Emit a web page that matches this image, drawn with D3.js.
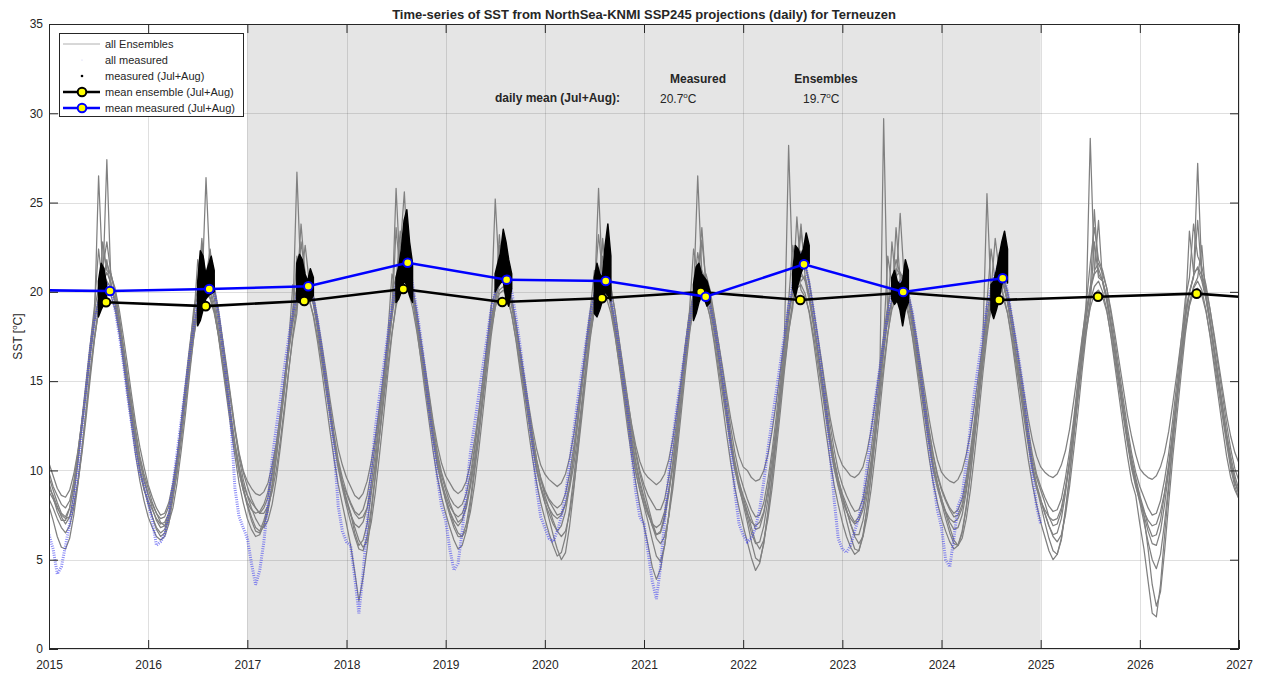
<!DOCTYPE html>
<html>
<head>
<meta charset="utf-8">
<script src="https://cdn.jsdelivr.net/npm/d3@7"></script>
<style>
  body { margin: 0; background: #fff; }
  svg text { font-family: "Liberation Sans", Arial, Helvetica, sans-serif; fill: #262626; }
</style>
</head>
<body>
<svg id="chart" width="1270" height="673"></svg>
<script>
// ---- data ----
const xTicks = [2015, 2016, 2017, 2018, 2019, 2020, 2021, 2022, 2023, 2024, 2025, 2026, 2027];
const yTicks = [0, 5, 10, 15, 20, 25, 30, 35];
const shadeRange = [2017, 2025];

// ensemble members, half-monthly samples from 1 Jan 2015 to 1 Jan 2027 (one row per year)
const ensA = [
  9.6, 8.9, 8.2, 7.6, 7.4, 7.9, 9.0, 10.6, 12.4, 14.3, 16.4, 18.2, 19.6, 21.3, 22.8, 21.0, 19.9, 18.5, 16.8, 15.1, 13.5, 11.9, 10.6, 9.6,
  8.7, 7.9, 7.2, 6.8, 6.9, 7.6, 8.9, 10.4, 12.2, 14.1, 16.3, 18.0, 19.4, 20.6, 21.2, 20.7, 19.6, 18.3, 16.7, 15.0, 13.2, 11.5, 10.2, 9.1,
  8.1, 7.4, 6.8, 6.6, 7.2, 8.0, 9.2, 10.8, 12.6, 14.5, 16.8, 18.5, 19.8, 21.0, 20.4, 20.0, 19.3, 18.0, 16.5, 14.9, 13.4, 11.8, 10.3, 9.2,
  8.4, 7.6, 6.5, 5.8, 6.1, 7.0, 8.7, 10.5, 12.8, 14.9, 17.0, 18.9, 20.3, 21.6, 22.0, 21.2, 20.1, 18.6, 17.0, 15.4, 13.8, 12.1, 10.8, 9.7,
  8.9, 8.2, 7.6, 7.1, 7.3, 7.9, 9.1, 10.6, 12.3, 14.2, 16.2, 18.0, 19.5, 20.4, 20.9, 20.3, 19.4, 18.0, 16.6, 15.0, 13.3, 11.8, 10.5, 9.5,
  8.8, 8.3, 7.9, 7.5, 7.6, 8.1, 9.3, 10.9, 12.7, 14.6, 16.5, 18.1, 19.2, 20.1, 20.8, 21.3, 20.2, 18.9, 17.2, 15.6, 13.9, 12.2, 10.9, 9.8,
  8.9, 8.0, 7.1, 6.4, 6.6, 7.5, 8.8, 10.2, 12.1, 14.0, 16.2, 18.2, 19.6, 20.3, 20.0, 19.8, 19.0, 17.7, 16.2, 14.8, 13.1, 11.6, 10.3, 9.3,
  8.6, 8.0, 7.3, 6.7, 6.8, 7.6, 9.0, 10.7, 12.5, 14.6, 16.9, 18.8, 20.0, 21.1, 20.6, 20.9, 19.8, 18.4, 16.9, 15.3, 13.7, 12.0, 10.6, 9.5,
  8.7, 8.1, 7.5, 7.1, 7.4, 8.0, 9.2, 10.6, 12.4, 14.5, 16.7, 18.6, 19.5, 20.0, 20.7, 20.4, 19.7, 18.4, 16.9, 15.4, 13.8, 12.2, 10.8, 9.7,
  8.9, 8.3, 7.8, 7.4, 7.5, 8.1, 9.3, 10.8, 12.6, 14.6, 16.6, 18.3, 19.4, 20.2, 20.8, 20.5, 19.5, 18.1, 16.6, 15.1, 13.5, 11.9, 10.6, 9.6,
  8.9, 8.2, 7.4, 6.9, 7.0, 7.7, 9.0, 10.6, 12.5, 14.6, 16.8, 18.7, 20.1, 21.0, 21.3, 20.6, 19.7, 18.3, 16.8, 15.2, 13.6, 12.0, 10.7, 9.6,
  8.6, 7.8, 6.9, 6.3, 6.4, 7.2, 8.7, 10.4, 12.3, 14.4, 16.6, 18.5, 19.9, 20.9, 21.4, 20.9, 19.9, 18.5, 16.9, 15.3, 13.7, 12.1, 10.8, 9.7,
  8.9
];
const ensB = [
  10.4, 9.7, 9.0, 8.6, 8.5, 8.9, 9.8, 11.1, 12.8, 14.6, 16.6, 18.4, 26.5, 21.0, 21.6, 20.9, 20.2, 19.0, 17.5, 15.9, 14.2, 12.6, 11.3, 10.2,
  9.2, 8.5, 7.9, 7.5, 7.6, 8.2, 9.3, 10.8, 12.5, 14.4, 16.2, 17.9, 19.1, 20.0, 26.4, 21.1, 20.3, 19.0, 17.4, 15.8, 14.1, 12.4, 11.0, 10.0,
  9.4, 9.0, 8.7, 8.6, 8.8, 9.3, 10.3, 11.5, 13.1, 14.8, 16.6, 18.2, 19.4, 20.2, 20.9, 20.4, 19.7, 18.5, 17.1, 15.6, 14.0, 12.5, 11.2, 10.3,
  9.6, 9.1, 8.6, 8.4, 8.7, 9.4, 10.5, 11.9, 13.6, 15.4, 17.3, 19.0, 25.8, 21.0, 21.4, 20.8, 19.9, 18.7, 17.3, 15.8, 14.3, 12.7, 11.4, 10.4,
  9.7, 9.3, 8.9, 8.7, 8.9, 9.4, 10.4, 11.7, 13.3, 15.0, 16.8, 18.4, 19.7, 20.5, 20.6, 20.0, 19.2, 18.0, 16.7, 15.3, 13.8, 12.4, 11.2, 10.3,
  9.8, 9.5, 9.3, 9.1, 9.3, 9.8, 10.7, 12.0, 13.6, 15.2, 16.9, 18.4, 19.6, 25.8, 20.4, 20.1, 19.3, 18.1, 16.8, 15.4, 14.0, 12.6, 11.4, 10.5,
  9.9, 9.6, 9.4, 9.2, 9.4, 9.8, 10.6, 11.8, 13.4, 15.1, 16.9, 18.5, 19.8, 26.5, 21.0, 20.6, 19.8, 18.6, 17.2, 15.8, 14.3, 12.9, 11.7, 10.8,
  10.2, 10.0, 9.6, 9.4, 9.5, 10.0, 10.9, 12.2, 13.8, 15.6, 17.5, 28.2, 20.6, 21.6, 22.3, 21.5, 20.4, 19.0, 17.6, 16.1, 14.5, 13.0, 11.8, 10.9,
  10.3, 10.0, 9.7, 9.6, 9.8, 10.2, 11.1, 12.3, 13.9, 15.7, 17.6, 19.2, 20.2, 20.9, 21.1, 20.6, 19.9, 18.8, 17.4, 15.9, 14.4, 12.9, 11.6, 10.6,
  9.9, 9.6, 9.4, 9.3, 9.5, 10.0, 10.9, 12.1, 13.7, 15.4, 17.2, 25.5, 19.8, 20.6, 21.0, 20.7, 19.9, 18.7, 17.3, 15.8, 14.3, 12.9, 11.7, 10.8,
  10.2, 9.9, 9.7, 9.6, 9.8, 10.3, 11.1, 12.3, 13.9, 15.6, 17.4, 19.0, 28.6, 21.2, 21.6, 21.0, 20.2, 19.0, 17.6, 16.1, 14.6, 13.1, 11.9, 10.9,
  10.1, 9.8, 9.6, 9.5, 9.7, 10.2, 11.0, 12.2, 13.8, 15.5, 17.3, 18.9, 20.0, 20.8, 27.2, 21.0, 20.2, 19.0, 17.6, 16.1, 14.6, 13.1, 11.9, 11.0,
  10.4
];
const ensC = [
  8.0, 7.2, 6.3, 5.7, 5.6, 6.2, 7.5, 9.2, 11.2, 13.4, 15.6, 17.5, 19.1, 20.4, 21.1, 20.5, 19.3, 17.8, 16.0, 14.2, 12.5, 10.8, 9.4, 8.3,
  7.4, 6.8, 6.3, 6.1, 6.3, 7.0, 8.4, 10.1, 12.0, 14.0, 16.0, 17.8, 19.2, 20.0, 20.5, 20.0, 19.0, 17.5, 15.8, 14.1, 12.4, 10.8, 9.3, 8.2,
  7.3, 6.7, 6.3, 6.4, 7.0, 7.8, 9.0, 10.7, 12.6, 14.6, 16.7, 18.6, 26.7, 20.5, 20.1, 19.6, 18.6, 17.2, 15.6, 13.9, 12.2, 10.6, 9.2, 8.1,
  7.0, 5.8, 4.3, 2.7, 4.0, 5.6, 7.6, 9.7, 12.0, 14.3, 16.6, 18.6, 20.1, 21.2, 21.5, 20.8, 19.6, 18.0, 16.2, 14.4, 12.7, 11.0, 9.6, 8.5,
  7.6, 6.8, 6.1, 5.6, 5.8, 6.6, 8.1, 9.9, 11.8, 13.9, 16.0, 17.9, 19.3, 20.1, 20.3, 19.7, 18.7, 17.3, 15.6, 14.0, 12.3, 10.7, 9.3, 8.2,
  7.3, 6.5, 5.8, 5.2, 5.4, 6.3, 7.8, 9.6, 11.6, 13.7, 15.8, 17.6, 19.0, 20.0, 20.5, 20.2, 19.1, 17.6, 15.9, 14.2, 12.4, 10.8, 9.3, 8.0,
  6.9, 5.8, 4.6, 3.9, 4.5, 5.8, 7.5, 9.4, 11.5, 13.7, 15.9, 17.8, 19.1, 19.9, 20.1, 19.6, 18.6, 17.1, 15.4, 13.7, 12.0, 10.4, 9.0, 7.9,
  6.9, 6.0, 5.1, 4.4, 4.8, 6.0, 7.7, 9.6, 11.7, 13.9, 16.1, 18.0, 19.4, 20.2, 20.4, 19.9, 18.8, 17.3, 15.6, 13.9, 12.2, 10.6, 9.2, 8.1,
  7.1, 6.3, 5.7, 5.3, 5.5, 6.4, 7.9, 9.8, 11.9, 14.1, 29.7, 18.2, 19.6, 20.3, 20.5, 19.9, 18.9, 17.4, 15.7, 14.0, 12.3, 10.7, 9.3, 8.2,
  7.3, 6.6, 6.0, 5.6, 5.8, 6.6, 8.0, 9.8, 11.8, 13.9, 16.0, 17.9, 19.2, 20.0, 20.3, 19.8, 18.8, 17.3, 15.6, 13.9, 12.2, 10.6, 9.2, 8.1,
  7.1, 6.3, 5.5, 5.0, 5.3, 6.2, 7.8, 9.7, 11.8, 14.0, 16.2, 18.1, 19.5, 20.3, 20.6, 20.0, 19.0, 17.5, 15.8, 14.1, 12.4, 10.8, 9.4, 8.6,
  7.0, 5.6, 3.8, 2.0, 1.8, 3.6, 6.4, 9.0, 11.5, 13.8, 16.1, 18.0, 19.4, 20.2, 20.6, 20.1, 19.0, 17.5, 15.8, 14.1, 12.4, 10.8, 9.6, 8.9,
  8.4
];
const ensD = [
  9.0, 8.6, 8.0, 7.4, 7.0, 7.4, 8.6, 10.4, 12.6, 14.8, 17.0, 18.9, 20.3, 21.0, 20.6, 20.2, 19.5, 18.2, 16.6, 14.9, 13.2, 11.5, 10.1, 9.0,
  8.1, 7.4, 6.8, 6.5, 6.7, 7.4, 8.8, 10.6, 12.7, 14.8, 16.9, 18.7, 19.9, 23.0, 20.2, 19.7, 18.9, 17.6, 16.0, 14.4, 12.8, 11.2, 9.9, 8.9,
  8.2, 7.8, 7.6, 7.7, 8.1, 8.8, 9.9, 11.4, 13.2, 15.1, 17.0, 18.6, 22.0, 20.6, 22.6, 20.5, 19.5, 18.1, 16.5, 14.9, 13.3, 11.7, 10.3, 9.2,
  8.2, 7.5, 7.0, 6.8, 7.1, 7.9, 9.3, 11.0, 13.0, 15.1, 17.3, 19.2, 20.6, 23.4, 21.6, 20.7, 19.6, 18.2, 16.6, 15.0, 13.4, 11.8, 10.4, 9.3,
  8.4, 7.7, 7.2, 6.9, 7.2, 8.0, 9.4, 11.1, 13.0, 15.1, 17.1, 18.9, 25.2, 20.8, 21.1, 20.4, 19.4, 18.0, 16.4, 14.8, 13.2, 11.6, 10.2, 9.1,
  8.2, 7.6, 7.0, 6.6, 6.9, 7.7, 9.1, 10.8, 12.8, 14.9, 17.0, 18.8, 20.0, 23.2, 21.0, 20.5, 19.5, 18.1, 16.5, 14.9, 13.3, 11.7, 10.3, 9.2,
  8.3, 7.6, 6.9, 6.4, 6.5, 7.3, 8.7, 10.5, 12.6, 14.8, 17.0, 18.9, 22.4, 21.0, 21.2, 20.6, 19.5, 18.1, 16.5, 14.9, 13.3, 11.7, 10.3, 9.2,
  8.3, 7.4, 6.5, 5.9, 6.0, 6.9, 8.4, 10.2, 12.3, 14.5, 16.8, 18.9, 20.4, 21.4, 23.8, 20.8, 19.7, 18.3, 16.7, 15.1, 13.5, 11.9, 10.5, 9.4,
  8.5, 7.8, 7.0, 6.4, 6.4, 7.2, 8.6, 10.4, 12.5, 14.7, 17.0, 19.1, 20.5, 21.3, 21.0, 20.3, 19.3, 17.9, 16.3, 14.8, 13.2, 11.7, 10.3, 9.3,
  8.4, 7.7, 7.1, 6.7, 6.8, 7.5, 8.8, 10.6, 12.6, 14.7, 16.9, 18.8, 20.1, 23.0, 21.1, 20.4, 19.4, 18.0, 16.4, 14.8, 13.2, 11.6, 10.2, 9.2,
  8.3, 7.6, 6.9, 6.4, 6.5, 7.3, 8.7, 10.5, 12.6, 14.8, 17.0, 18.9, 20.3, 21.1, 24.0, 20.5, 19.5, 18.1, 16.5, 14.9, 13.3, 11.7, 10.3, 9.3,
  8.4, 7.5, 6.6, 5.9, 5.8, 6.6, 8.1, 10.0, 12.1, 14.3, 16.6, 18.7, 23.4, 21.1, 21.3, 20.6, 19.6, 18.2, 16.6, 15.0, 13.4, 11.8, 10.4, 9.4,
  8.7
];
const ensE = [
  8.4, 7.9, 7.3, 6.8, 6.5, 6.9, 7.9, 9.4, 11.3, 13.4, 15.5, 17.4, 18.9, 19.8, 20.2, 19.8, 19.0, 17.7, 16.2, 14.6, 12.9, 11.3, 9.9, 8.9,
  8.3, 7.8, 7.3, 7.0, 7.1, 7.6, 8.5, 9.8, 11.6, 13.6, 15.6, 17.4, 18.8, 19.6, 20.0, 19.6, 18.8, 17.6, 16.1, 14.6, 13.0, 11.5, 10.2, 9.2,
  8.6, 8.2, 7.9, 7.6, 7.6, 8.0, 8.8, 10.0, 11.7, 13.6, 15.6, 17.4, 18.8, 21.8, 19.9, 19.5, 18.7, 17.5, 16.1, 14.6, 13.1, 11.6, 10.3, 9.3,
  8.7, 8.1, 7.6, 7.3, 7.4, 7.9, 8.9, 10.2, 11.9, 13.9, 15.9, 17.7, 19.2, 20.1, 20.4, 20.0, 19.1, 17.8, 16.3, 14.8, 13.2, 11.7, 10.3, 9.3,
  8.6, 8.0, 7.6, 7.4, 7.6, 8.2, 9.2, 10.5, 12.2, 14.1, 16.1, 17.8, 19.1, 19.9, 20.1, 19.6, 18.7, 17.4, 15.9, 14.4, 12.9, 11.4, 10.1, 9.1,
  8.4, 7.9, 7.5, 7.3, 7.5, 8.1, 9.0, 10.3, 12.0, 13.9, 15.9, 17.7, 19.0, 19.8, 22.0, 19.6, 18.8, 17.5, 16.0, 14.5, 12.9, 11.3, 9.9, 8.9,
  8.1, 7.5, 7.0, 6.8, 7.0, 7.7, 8.9, 10.4, 12.2, 14.2, 16.2, 18.0, 19.2, 19.9, 20.0, 19.5, 18.6, 17.3, 15.8, 14.3, 12.8, 11.3, 10.0, 9.0,
  8.2, 7.6, 7.1, 6.9, 7.1, 7.7, 8.8, 10.2, 11.9, 13.9, 15.9, 17.8, 19.1, 21.9, 20.1, 19.7, 18.9, 17.6, 16.1, 14.6, 13.0, 11.5, 10.1, 9.1,
  8.3, 7.7, 7.3, 7.0, 7.2, 7.8, 8.9, 10.3, 12.0, 13.9, 15.9, 17.7, 19.0, 19.7, 19.9, 19.5, 18.7, 17.5, 16.0, 14.5, 12.9, 11.4, 10.0, 9.0,
  8.2, 7.7, 7.3, 7.1, 7.3, 7.9, 9.0, 10.4, 12.1, 14.0, 16.0, 17.8, 19.0, 19.8, 21.8, 19.6, 18.8, 17.5, 16.0, 14.5, 12.9, 11.4, 10.0, 9.0,
  8.3, 7.8, 7.4, 7.2, 7.3, 7.9, 9.0, 10.4, 12.1, 14.0, 16.0, 17.8, 19.1, 19.9, 20.1, 19.7, 18.9, 17.6, 16.1, 14.6, 13.0, 11.5, 10.1, 9.1,
  8.3, 7.7, 7.2, 6.9, 7.0, 7.7, 8.8, 10.2, 12.0, 14.0, 16.0, 17.9, 19.2, 20.0, 20.2, 19.8, 18.9, 17.6, 16.1, 14.6, 13.0, 11.5, 10.1, 9.1,
  8.4
];
const ensF = [
  9.9, 9.1, 8.6, 8.1, 7.9, 8.3, 9.4, 11.0, 12.9, 15.0, 17.1, 19.2, 22.4, 20.3, 21.8, 20.1, 19.5, 18.3, 16.9, 15.3, 13.8, 12.2, 10.8, 9.8,
  9.0, 8.2, 7.6, 7.3, 7.4, 8.0, 9.1, 10.7, 12.6, 14.6, 16.6, 19.0, 20.2, 22.6, 20.6, 21.4, 20.0, 18.7, 17.1, 15.5, 13.9, 12.3, 10.9, 9.9,
  9.1, 8.4, 7.9, 7.6, 7.9, 8.5, 9.7, 11.2, 13.0, 15.0, 17.1, 20.4, 19.6, 22.8, 21.0, 20.2, 19.8, 18.4, 16.8, 15.2, 13.6, 12.0, 10.6, 9.6,
  8.8, 8.2, 7.7, 7.5, 7.8, 8.6, 9.9, 11.5, 13.4, 15.4, 17.6, 21.0, 20.2, 22.4, 25.6, 21.1, 20.3, 18.9, 17.3, 15.7, 14.1, 12.5, 11.0, 9.9,
  9.1, 8.5, 8.1, 7.9, 8.1, 8.7, 9.8, 11.3, 13.1, 15.0, 17.0, 19.2, 20.0, 22.0, 21.2, 20.5, 19.6, 18.2, 16.7, 15.1, 13.5, 12.0, 10.6, 9.6,
  8.9, 8.4, 8.1, 7.9, 8.1, 8.7, 9.8, 11.3, 13.1, 15.1, 17.2, 19.0, 21.2, 20.4, 22.6, 21.8, 20.3, 18.9, 17.3, 15.7, 14.1, 12.5, 11.1, 10.0,
  9.2, 8.6, 8.2, 7.8, 7.8, 8.4, 9.6, 11.1, 12.9, 14.9, 17.0, 18.8, 20.0, 22.2, 20.8, 21.0, 20.1, 18.7, 17.2, 15.6, 14.0, 12.4, 11.0, 9.9,
  9.1, 8.4, 7.8, 7.4, 7.5, 8.2, 9.5, 11.1, 13.0, 15.1, 17.3, 19.5, 22.6, 21.0, 23.4, 21.6, 20.6, 19.1, 17.5, 15.9, 14.2, 12.6, 11.2, 10.0,
  9.2, 8.6, 8.1, 7.7, 7.8, 8.4, 9.7, 11.2, 13.1, 15.2, 17.4, 22.0, 20.4, 21.8, 21.0, 20.8, 20.0, 18.6, 17.1, 15.5, 13.9, 12.3, 10.9, 9.8,
  9.0, 8.4, 7.9, 7.6, 7.8, 8.4, 9.6, 11.1, 12.9, 14.9, 17.0, 19.4, 22.4, 20.6, 21.6, 20.9, 20.0, 18.6, 17.1, 15.5, 13.9, 12.3, 10.9, 9.8,
  9.1, 8.5, 8.0, 7.7, 7.8, 8.4, 9.6, 11.1, 12.9, 15.0, 17.2, 19.3, 21.6, 23.6, 21.8, 21.2, 20.2, 18.8, 17.2, 15.6, 14.0, 12.4, 11.0, 9.9,
  9.1, 8.5, 7.9, 7.5, 7.6, 8.3, 9.5, 11.0, 12.9, 15.0, 17.2, 19.6, 20.8, 23.8, 22.0, 21.4, 20.4, 19.0, 17.4, 15.8, 14.2, 12.6, 11.2, 10.1,
  9.4
];
const ensG = [
  8.8, 8.4, 7.9, 7.5, 7.3, 7.4, 8.1, 9.3, 11.0, 13.0, 15.2, 17.3, 19.0, 22.8, 21.2, 21.0, 20.0, 18.6, 17.0, 15.3, 13.6, 12.0, 10.5, 9.4,
  8.6, 8.1, 7.6, 7.1, 6.9, 7.1, 7.9, 9.3, 11.1, 13.1, 15.3, 17.4, 19.1, 20.2, 20.8, 22.4, 20.2, 18.9, 17.3, 15.6, 13.9, 12.2, 10.7, 9.5,
  8.6, 7.9, 7.3, 6.9, 6.8, 7.2, 8.1, 9.5, 11.3, 13.3, 15.5, 17.6, 19.2, 20.2, 20.6, 20.4, 19.6, 18.3, 16.7, 15.1, 13.4, 11.8, 10.4, 9.3,
  8.3, 7.6, 6.8, 6.1, 5.7, 6.0, 7.1, 8.8, 10.9, 13.1, 15.4, 17.6, 19.4, 20.6, 23.0, 21.1, 20.2, 18.8, 17.2, 15.5, 13.8, 12.1, 10.6, 9.4,
  8.4, 7.7, 7.0, 6.5, 6.3, 6.7, 7.7, 9.2, 11.1, 13.2, 15.4, 17.5, 19.2, 22.6, 20.6, 20.4, 19.6, 18.3, 16.8, 15.2, 13.6, 12.0, 10.6, 9.5,
  8.6, 7.9, 7.2, 6.6, 6.3, 6.6, 7.6, 9.1, 11.0, 13.1, 15.3, 17.4, 19.0, 20.0, 20.5, 20.4, 19.6, 18.3, 16.7, 15.1, 13.5, 11.9, 10.5, 9.4,
  8.5, 7.7, 6.9, 6.2, 5.9, 6.3, 7.4, 9.0, 11.0, 13.2, 15.5, 17.6, 19.3, 20.3, 22.9, 20.6, 19.7, 18.3, 16.7, 15.1, 13.5, 11.9, 10.5, 9.4,
  8.5, 7.7, 6.8, 6.0, 5.6, 6.1, 7.3, 9.0, 11.1, 13.3, 15.6, 17.7, 19.4, 20.4, 20.9, 20.7, 19.8, 18.4, 16.8, 15.2, 13.6, 12.0, 10.6, 9.5,
  8.6, 7.8, 7.0, 6.3, 5.9, 6.3, 7.4, 9.0, 11.0, 13.2, 15.5, 17.6, 19.3, 23.6, 20.7, 20.5, 19.6, 18.2, 16.6, 15.0, 13.4, 11.8, 10.4, 9.3,
  8.4, 7.6, 6.8, 6.1, 5.8, 6.2, 7.3, 8.9, 10.9, 13.1, 15.4, 17.5, 19.2, 20.2, 20.6, 20.4, 19.5, 18.1, 16.5, 14.9, 13.3, 11.7, 10.3, 9.2,
  8.4, 7.6, 6.9, 6.3, 6.0, 6.4, 7.5, 9.1, 11.1, 13.2, 15.5, 17.6, 19.3, 22.8, 20.8, 20.6, 19.7, 18.3, 16.7, 15.1, 13.5, 11.9, 10.5, 9.4,
  8.5, 7.4, 5.6, 3.6, 2.4, 3.2, 5.5, 8.2, 10.8, 13.1, 15.4, 17.6, 19.3, 20.3, 20.8, 22.6, 19.7, 18.3, 16.7, 15.1, 13.5, 11.9, 10.5, 9.4,
  8.6
];
const ensH = [
  9.3, 8.5, 7.7, 7.2, 7.2, 7.9, 9.2, 10.9, 12.8, 14.8, 16.8, 18.5, 19.6, 20.3, 27.4, 20.4, 19.6, 18.2, 16.5, 14.8, 13.1, 11.5, 10.1, 9.0,
  8.2, 7.4, 6.7, 6.3, 6.5, 7.3, 8.7, 10.5, 12.5, 14.6, 16.6, 18.3, 21.8, 20.1, 20.6, 20.2, 19.3, 17.9, 16.2, 14.6, 12.9, 11.3, 9.9, 8.9,
  8.0, 7.2, 6.6, 6.5, 6.9, 7.7, 9.1, 10.9, 12.9, 15.0, 17.1, 18.9, 20.1, 23.8, 20.9, 20.3, 19.3, 17.9, 16.3, 14.7, 13.1, 11.5, 10.1, 9.0,
  8.0, 7.1, 6.3, 5.6, 5.5, 6.3, 7.9, 9.8, 12.0, 14.3, 16.6, 18.6, 23.6, 20.9, 21.6, 21.0, 19.8, 18.4, 16.7, 15.0, 13.3, 11.7, 10.3, 9.2,
  8.3, 7.5, 6.8, 6.3, 6.3, 7.0, 8.4, 10.2, 12.2, 14.4, 16.5, 18.4, 19.6, 23.2, 20.6, 20.2, 19.2, 17.8, 16.2, 14.6, 13.0, 11.4, 10.0, 9.0,
  8.2, 7.3, 6.4, 5.6, 5.0, 5.4, 6.9, 8.9, 11.2, 13.6, 15.9, 17.9, 19.4, 20.2, 23.0, 20.4, 19.3, 17.8, 16.1, 14.5, 12.9, 11.3, 9.9, 8.9,
  8.0, 7.1, 6.1, 5.2, 4.9, 5.8, 7.5, 9.6, 11.8, 14.1, 16.4, 18.4, 19.8, 20.7, 23.6, 20.3, 19.3, 17.9, 16.3, 14.7, 13.1, 11.5, 10.1, 9.1,
  8.1, 7.1, 6.0, 5.1, 4.9, 5.9, 7.6, 9.6, 11.8, 14.1, 16.4, 18.5, 20.0, 24.2, 21.1, 20.6, 19.5, 18.1, 16.5, 14.9, 13.2, 11.6, 10.2, 9.2,
  8.2, 7.2, 6.3, 5.6, 5.5, 6.3, 7.9, 9.8, 11.9, 14.2, 16.6, 18.6, 22.8, 20.4, 24.4, 20.6, 19.5, 18.1, 16.5, 14.9, 13.2, 11.6, 10.2, 9.2,
  8.2, 7.3, 6.5, 5.9, 5.8, 6.5, 7.9, 9.8, 11.9, 14.1, 16.4, 18.4, 19.8, 20.6, 22.2, 20.4, 19.4, 18.0, 16.4, 14.8, 13.2, 11.6, 10.2, 9.1,
  8.1, 7.1, 6.2, 5.5, 5.3, 6.1, 7.7, 9.7, 11.9, 14.2, 16.5, 18.5, 20.0, 24.6, 21.0, 20.6, 19.5, 18.1, 16.5, 14.9, 13.3, 11.7, 10.3, 9.2,
  8.2, 7.1, 6.0, 5.0, 4.5, 5.3, 7.1, 9.3, 11.6, 14.0, 16.4, 18.5, 20.0, 20.9, 24.0, 20.8, 19.7, 18.2, 16.6, 15.0, 13.4, 11.8, 10.4, 9.3,
  8.8
];
const ensembles = [ensA, ensB, ensC, ensD, ensE, ensF, ensG, ensH];

// measured, half-monthly from 1 Jan 2015 to 1 Jan 2025
const measured = [
  6.4, 5.6, 4.2, 4.6, 5.8, 7.0, 8.4, 10.0, 12.4, 14.6, 16.8, 18.4, 19.4, 20.2, 20.4, 20.0, 19.0, 17.6, 16.0, 14.2, 12.6, 11.0, 9.8, 9.2,
  8.2, 7.2, 5.8, 6.0, 6.4, 7.6, 9.2, 11.0, 12.8, 14.6, 16.4, 18.0, 19.4, 20.4, 21.0, 20.6, 20.0, 18.8, 17.0, 15.0, 12.8, 9.0, 7.4, 6.8,
  6.2, 4.8, 3.6, 4.4, 6.0, 8.2, 10.6, 12.4, 14.0, 15.8, 17.4, 18.8, 19.8, 20.6, 20.8, 20.4, 19.6, 18.4, 16.8, 15.0, 13.2, 11.2, 8.0, 6.6,
  6.0, 5.8, 4.0, 2.0, 4.2, 7.0, 10.0, 12.4, 14.2, 15.8, 17.6, 19.2, 20.4, 21.4, 22.0, 21.6, 20.4, 19.0, 17.4, 15.6, 13.4, 11.6, 9.6, 8.0,
  7.2, 5.6, 4.4, 4.8, 6.6, 8.8, 11.0, 12.6, 14.2, 15.8, 17.4, 19.0, 20.0, 20.8, 21.4, 21.0, 20.0, 18.6, 17.0, 15.2, 13.4, 11.4, 9.0, 7.4,
  6.8, 6.2, 6.0, 6.6, 7.4, 8.6, 10.4, 12.2, 14.0, 15.6, 17.2, 18.8, 19.8, 20.6, 21.0, 20.6, 19.6, 18.4, 16.8, 15.0, 13.4, 11.0, 8.8, 7.4,
  7.0, 5.4, 3.8, 2.8, 4.6, 7.2, 9.8, 11.8, 13.6, 15.2, 16.8, 18.4, 19.6, 20.4, 20.2, 19.8, 19.2, 18.2, 16.8, 15.2, 13.4, 11.2, 8.8, 7.0,
  6.4, 6.0, 6.2, 6.8, 7.8, 9.4, 11.2, 12.8, 14.4, 16.0, 17.6, 19.2, 20.4, 21.6, 22.2, 21.6, 20.4, 19.0, 17.4, 15.6, 13.6, 11.0, 8.4, 6.2,
  5.6, 5.4, 5.8, 6.6, 7.4, 8.4, 10.2, 12.2, 14.0, 15.6, 17.2, 18.8, 19.8, 20.2, 20.6, 20.2, 19.8, 18.8, 17.2, 15.4, 13.4, 11.4, 9.4, 7.8,
  6.8, 5.0, 4.6, 6.2, 8.0, 8.6, 10.4, 12.4, 14.4, 16.0, 17.6, 19.2, 20.2, 21.0, 21.6, 21.0, 20.0, 18.6, 17.2, 15.8, 14.2, 12.0, 9.8, 8.0,
  7.0
];

// measured Jul+Aug: spread (low/high) per ~10 days, one row per year
const jaYears = [2015, 2016, 2017, 2018, 2019, 2020, 2021, 2022, 2023, 2024];
const jaDays = [182, 192, 202, 212, 222, 232, 243];
const jaLow = [
  [18.6, 19.0, 19.3, 19.6, null, null, null],
  [18.1, 18.4, 19.0, 19.6, 19.8, 19.9, 20.0],
  [19.5, 19.4, 19.6, 19.8, 19.6, 19.5, 19.8],
  [19.4, 19.6, 20.0, 20.6, 20.4, 19.8, 19.4],
  [20.0, 20.3, 20.5, 20.6, 19.6, 19.2, 20.2],
  [18.8, 18.6, 19.0, 19.5, 20.0, 19.8, 19.5],
  [18.4, 18.8, 19.4, 19.8, 19.6, 19.2, 19.4],
  [20.2, 19.7, 20.4, 21.0, 21.4, 21.8, 21.6],
  [19.6, 19.3, 19.5, 19.0, 18.1, 19.0, 19.4],
  [19.0, 18.5, 19.0, 19.6, 20.4, 21.0, 20.5]
];
const jaHigh = [
  [20.6, 21.6, 21.3, 20.4, null, null, null],
  [20.5, 22.3, 22.0, 21.0, 21.5, 22.0, 21.2],
  [21.6, 22.1, 21.8, 21.0, 20.6, 21.3, 20.8],
  [20.8, 21.4, 22.4, 24.0, 24.6, 22.8, 21.6],
  [21.0, 21.6, 22.2, 23.5, 22.8, 21.8, 21.0],
  [20.8, 21.6, 21.0, 20.8, 22.6, 23.8, 22.0],
  [20.4, 21.4, 21.6, 21.0, 20.8, 20.6, 20.0],
  [21.0, 22.6, 22.4, 22.0, 22.4, 23.3, 22.6],
  [20.8, 21.2, 20.6, 20.4, 20.6, 21.8, 21.2],
  [20.4, 20.6, 21.2, 22.0, 22.8, 23.4, 22.4]
];

// Jul+Aug means (decimal year of each point, value)
const ensMeanT = [2015.575, 2016.580, 2017.574, 2018.573, 2019.571, 2020.576, 2021.572, 2022.576, 2023.611, 2024.579, 2025.578, 2026.573, 2027.575];
const ensMean  = [19.42, 19.20, 19.49, 20.16, 19.43, 19.64, 19.99, 19.54, 19.95, 19.54, 19.73, 19.90, 19.50];
const measMeanT = [2014.615, 2015.615, 2016.616, 2017.615, 2018.617, 2019.615, 2020.614, 2021.622, 2022.613, 2023.614, 2024.617];
const measMean  = [20.10, 20.05, 20.16, 20.31, 21.63, 20.68, 20.61, 19.73, 21.54, 19.99, 20.76];

// ---- drawing ----
const svg = d3.select('#chart');
const pL = 49, pR = 1239, pT = 24, pB = 649;

const x = d3.scaleLinear().domain([2015, 2027]).range([pL, pR]);
const y = d3.scaleLinear().domain([0, 35]).range([pB, pT]);

svg.append('rect').attr('width', 1270).attr('height', 673).attr('fill', '#fff');

svg.append('defs').append('clipPath').attr('id', 'plotclip')
  .append('rect')
  .attr('x', pL).attr('y', pT)
  .attr('width', pR - pL).attr('height', pB - pT);

// shaded period
svg.append('rect')
  .attr('x', x(shadeRange[0])).attr('y', pT)
  .attr('width', x(shadeRange[1]) - x(shadeRange[0]))
  .attr('height', pB - pT)
  .attr('fill', '#e5e5e5');

// grid
const grid = svg.append('g').attr('stroke', '#262626').attr('stroke-opacity', 0.15).attr('stroke-width', 1);
grid.selectAll('.gx').data(xTicks).enter().append('line')
  .attr('x1', d => Math.round(x(d)) + 0.5).attr('x2', d => Math.round(x(d)) + 0.5)
  .attr('y1', pT).attr('y2', pB);
grid.selectAll('.gy').data(yTicks).enter().append('line')
  .attr('x1', pL).attr('x2', pR)
  .attr('y1', d => Math.round(y(d)) + 0.5).attr('y2', d => Math.round(y(d)) + 0.5);

const plot = svg.append('g').attr('clip-path', 'url(#plotclip)');

// ensemble members (sample i sits i half-months after 1 Jan 2015)
const ensLine = d3.line()
  .x((d, i) => x(2015 + i / 24))
  .y(d => y(d));

plot.append('g').selectAll('path').data(ensembles).enter().append('path')
  .attr('d', ensLine)
  .attr('fill', 'none')
  .attr('stroke', '#808080')
  .attr('stroke-width', 1.25)
  .attr('stroke-linejoin', 'round');

// all measured (dense dots -> hatched look)
plot.append('path')
  .attr('d', ensLine(measured))
  .attr('fill', 'none')
  .attr('stroke', '#3c3cf0')
  .attr('stroke-opacity', 0.6)
  .attr('stroke-width', 3)
  .attr('stroke-dasharray', '1 1.3');

// measured Jul+Aug
const jaArea = d3.area()
  .defined(d => d.lo != null)
  .x(d => x(d.t))
  .y0(d => y(d.lo))
  .y1(d => y(d.hi));

jaYears.forEach((yr, j) => {
  const pts = jaDays.map((day, k) => ({ t: yr + day / 365, lo: jaLow[j][k], hi: jaHigh[j][k] }));
  plot.append('path')
    .attr('d', jaArea(pts))
    .attr('fill', '#000')
    .attr('stroke', '#000')
    .attr('stroke-width', 1.5)
    .attr('stroke-linejoin', 'round');
});

// means
function drawMean(ts, vals, color) {
  const pts = ts.map((t, i) => [t, vals[i]]);
  plot.append('path')
    .attr('d', d3.line().x(d => x(d[0])).y(d => y(d[1]))(pts))
    .attr('fill', 'none')
    .attr('stroke', color)
    .attr('stroke-width', 2.6);
  plot.selectAll(null).data(pts).enter().append('circle')
    .attr('cx', d => x(d[0])).attr('cy', d => y(d[1]))
    .attr('r', 4.3)
    .attr('fill', '#ffff00')
    .attr('stroke', color)
    .attr('stroke-width', 2);
}
drawMean(ensMeanT, ensMean, '#000');
drawMean(measMeanT, measMean, '#0000ff');

// axes (ticks inside, box on)
const fmt = d3.format('d');
const axB = svg.append('g').attr('transform', `translate(0,${pB})`)
  .call(d3.axisBottom(x).tickValues(xTicks).tickFormat(fmt).tickSize(-9).tickSizeOuter(0).tickPadding(11));
const axL = svg.append('g').attr('transform', `translate(${pL},0)`)
  .call(d3.axisLeft(y).tickValues(yTicks).tickSize(-9).tickSizeOuter(0).tickPadding(6));
const axT = svg.append('g').attr('transform', `translate(0,${pT})`)
  .call(d3.axisTop(x).tickValues(xTicks).tickFormat('').tickSize(-9).tickSizeOuter(0));
const axR = svg.append('g').attr('transform', `translate(${pR},0)`)
  .call(d3.axisRight(y).tickValues(yTicks).tickFormat('').tickSize(-9).tickSizeOuter(0));
[axB, axL, axT, axR].forEach(g => {
  g.select('.domain').remove();
  g.selectAll('line').attr('stroke', '#262626');
  g.selectAll('text').attr('font-size', 12).attr('fill', '#262626');
});

svg.append('rect')
  .attr('x', pL + 0.5).attr('y', pT + 0.5)
  .attr('width', pR - pL - 1).attr('height', pB - pT - 1)
  .attr('fill', 'none').attr('stroke', '#262626').attr('stroke-width', 1);

// title and labels
svg.append('text')
  .attr('x', (pL + pR) / 2).attr('y', 19)
  .attr('text-anchor', 'middle').attr('font-size', 13).attr('font-weight', 'bold')
  .attr('fill', '#000')
  .text('Time-series of SST from NorthSea-KNMI SSP245 projections (daily) for Terneuzen');

const yl = svg.append('text')
  .attr('transform', `translate(22,${(pT + pB) / 2}) rotate(-90)`)
  .attr('text-anchor', 'middle').attr('font-size', 12);
yl.append('tspan').text('SST [');
yl.append('tspan').attr('font-size', 8).attr('dy', -5).text('o');
yl.append('tspan').attr('dy', 5).text('C]');

// in-plot annotation
const ann = svg.append('g').attr('fill', '#000');
ann.append('text').attr('x', 698).attr('y', 83).attr('text-anchor', 'middle')
  .attr('font-size', 12).attr('font-weight', 'bold').text('Measured');
ann.append('text').attr('x', 826).attr('y', 83).attr('text-anchor', 'middle')
  .attr('font-size', 12).attr('font-weight', 'bold').text('Ensembles');
ann.append('text').attr('x', 620).attr('y', 102).attr('text-anchor', 'end')
  .attr('font-size', 12).attr('font-weight', 'bold').text('daily mean (Jul+Aug):');
function degText(xp, val) {
  const t = ann.append('text').attr('x', xp).attr('y', 103).attr('font-size', 12);
  t.append('tspan').text(val);
  t.append('tspan').attr('font-size', 8).attr('dy', -5).text('o');
  t.append('tspan').attr('dy', 5).text('C');
}
degText(660, '20.7');
degText(803, '19.7');

// legend
const legendItems = ['all Ensembles', 'all measured', 'measured (Jul+Aug)', 'mean ensemble (Jul+Aug)', 'mean measured (Jul+Aug)'];
const lg = svg.append('g');
lg.append('rect').attr('x', 59.5).attr('y', 33.5).attr('width', 184).attr('height', 83)
  .attr('fill', '#fff').attr('stroke', '#262626').attr('stroke-width', 1);
legendItems.forEach((name, i) => {
  const cy = 44 + i * 16;
  lg.append('text').attr('x', 105).attr('y', cy + 4).attr('font-size', 11).attr('fill', '#000').text(name);
  if (i === 0) {
    lg.append('line').attr('x1', 63).attr('x2', 100).attr('y1', cy).attr('y2', cy)
      .attr('stroke', '#b0b0b0').attr('stroke-width', 1);
  } else if (i === 1) {
    lg.append('circle').attr('cx', 82).attr('cy', cy).attr('r', 0.6).attr('fill', '#c8c8f0');
  } else if (i === 2) {
    lg.append('circle').attr('cx', 82).attr('cy', cy).attr('r', 1.3).attr('fill', '#000');
  } else {
    const c = i === 3 ? '#000' : '#0000ff';
    lg.append('line').attr('x1', 63).attr('x2', 100).attr('y1', cy).attr('y2', cy)
      .attr('stroke', c).attr('stroke-width', 2.6);
    lg.append('circle').attr('cx', 82).attr('cy', cy).attr('r', 4.3)
      .attr('fill', '#ffff00').attr('stroke', c).attr('stroke-width', 2);
  }
});
</script>
</body>
</html>
